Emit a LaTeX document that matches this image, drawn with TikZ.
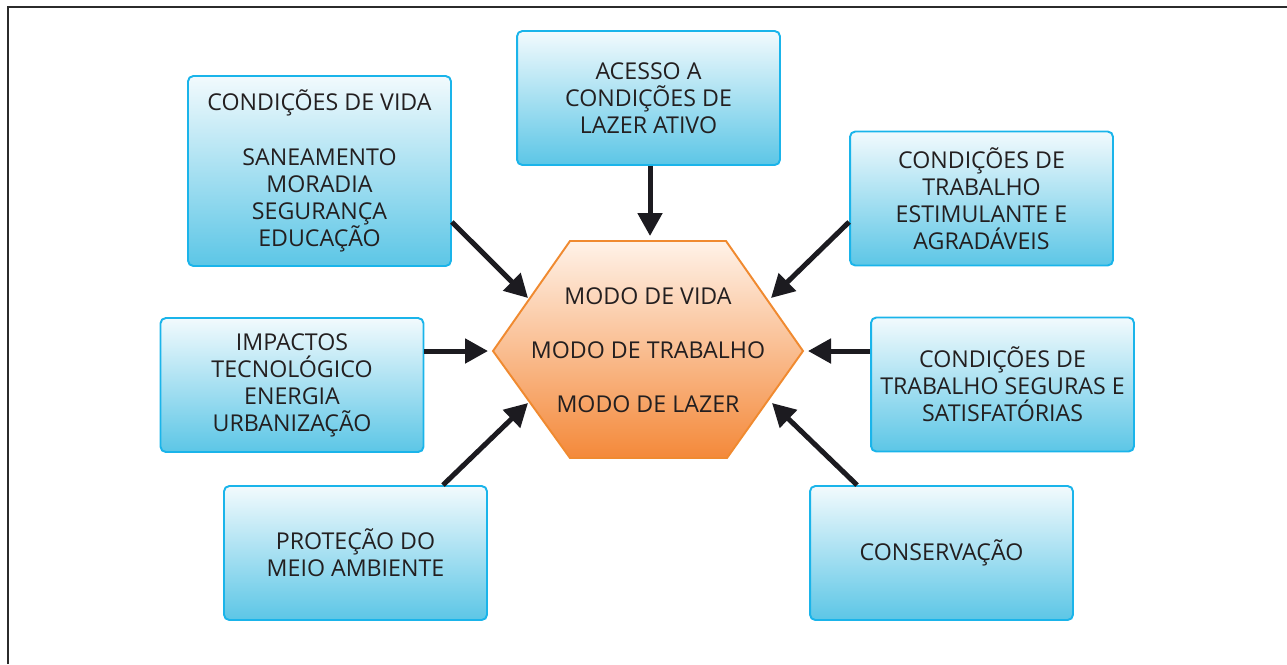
\documentclass[tikz,border=0pt]{standalone}
\usepackage{fontspec}
\setmainfont{Open Sans}
\usepackage{tikz}
\usetikzlibrary{arrows.meta,calc}

\definecolor{bordaazul}{HTML}{1AB4EA}
\definecolor{azultopo}{HTML}{F2FAFD}
\definecolor{azulbase}{HTML}{5CC6E6}
\definecolor{bordalaranja}{HTML}{F08A30}
\definecolor{laranjatopo}{HTML}{FFF2E8}
\definecolor{laranjabase}{HTML}{F4893A}
\definecolor{preto}{HTML}{1C1B20}
\definecolor{texto}{HTML}{231F20}
\definecolor{moldura}{HTML}{2B2B2B}

\begin{document}
\begin{tikzpicture}[x=0.02cm,y=-0.02cm,
  caixa/.style={draw=bordaazul,line width=1.1pt,rounded corners=3pt,
    top color=azultopo,bottom color=azulbase,
    minimum width=5.26cm,minimum height=2.68cm,inner sep=0pt,
    align=center,text=texto,font=\fontsize{13.2}{15.4}\selectfont},
  seta/.style={draw=preto,line width=2.85pt,
    -{Triangle[length=0.46cm,width=0.48cm]}}]
\useasboundingbox (0,0) rectangle (1287,664);
\draw[moldura,line width=1.6pt] (8,664) -- (8,7) -- (1287,7);

% hexagono central
\coordinate (hw) at (493,351);
\coordinate (hnw) at (570,241);
\coordinate (hne) at (726,241);
\coordinate (he) at (803,351);
\coordinate (hse) at (727,458);
\coordinate (hsw) at (570,458);
\path[draw=bordalaranja,line width=1.1pt,top color=laranjatopo,bottom color=laranjabase]
  (hw) -- (hnw) -- (hne) -- (he) -- (hse) -- (hsw) -- cycle;
\node[align=center,text=texto,font=\fontsize{13.2}{15.4}\selectfont] (modo) at (648,350)
  {MODO DE VIDA\\[15.4pt]MODO DE TRABALHO\\[15.4pt]MODO DE LAZER};

% caixas
\node[caixa,minimum height=3.8cm] (vida) at (319.5,171)
  {CONDIÇÕES DE VIDA\\[15.4pt]SANEAMENTO\\MORADIA\\SEGURANÇA\\EDUCAÇÃO};
\node[caixa] (lazer) at (648.5,98) {ACESSO A\\CONDIÇÕES DE\\LAZER ATIVO};
\node[caixa] (estimulante) at (981.5,198.5)
  {CONDIÇÕES DE\\TRABALHO\\ESTIMULANTE E\\AGRADÁVEIS};
\node[caixa] (impactos) at (292,385)
  {IMPACTOS\\TECNOLÓGICO\\ENERGIA\\URBANIZAÇÃO};
\node[caixa] (seguras) at (1002.5,384.5)
  {CONDIÇÕES DE\\TRABALHO SEGURAS E\\SATISFATÓRIAS};
\node[caixa] (protecao) at (355.5,553) {PROTEÇÃO DO\\MEIO AMBIENTE};
\node[caixa] (conserv) at (941.5,553) {CONSERVAÇÃO};

% pontas das setas
\coordinate (p1) at (528,298);
\coordinate (p2) at (650,236);
\coordinate (p3) at (771,298);
\coordinate (p4) at (488,351);
\coordinate (p5) at (808,351);
\coordinate (p6) at (528,403);
\coordinate (p7) at (772,403);

\draw[seta] ([yshift=-1.02cm]vida.east) -- (p1);
\draw[seta] (lazer.south -| p2) -- (p2);
\draw[seta] ([yshift=-0.47cm]estimulante.west) -- (p3);
\draw[seta] (impactos.east |- p4) -- (p4);
\draw[seta] (seguras.west |- p5) -- (p5);
\draw[seta] ([xshift=1.75cm]protecao.north) -- (p6);
\draw[seta] ([xshift=-1.69cm]conserv.north) -- (p7);
\end{tikzpicture}
\end{document}
